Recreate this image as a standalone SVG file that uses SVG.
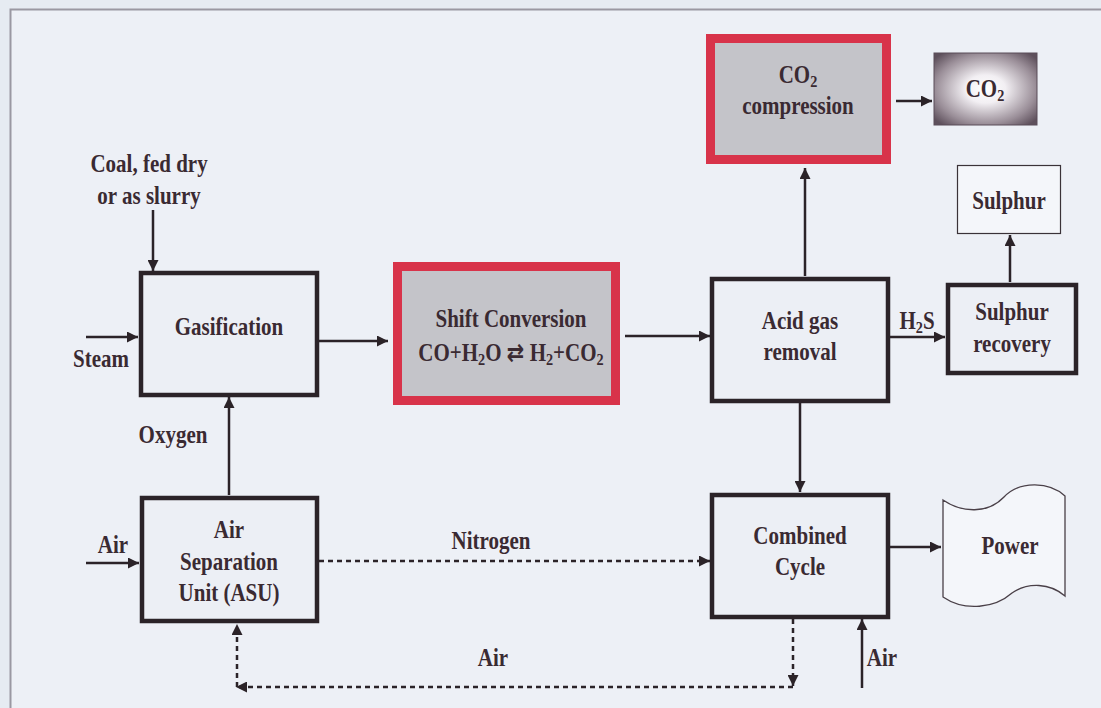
<svg xmlns="http://www.w3.org/2000/svg" width="1101" height="708" viewBox="0 0 1101 708">
<defs>
<style>
.t{font-family:"Liberation Serif","Times New Roman",serif;font-weight:bold;font-size:25px;fill:#3a2a32;text-anchor:middle;transform-box:fill-box;transform-origin:center;transform:scaleX(0.84)}
.box{fill:#eceff5;stroke:#2b2328;stroke-width:4.5}
.red{fill:#c4c4c9;stroke:#d8334a;stroke-width:9}
.ln{stroke:#2b2328;stroke-width:2.5;fill:none}
.dash{stroke:#2b2328;stroke-width:2.5;fill:none;stroke-dasharray:5 4}
</style>
<marker id="ah" viewBox="0 0 10 10" refX="10" refY="5" markerWidth="4.4" markerHeight="4.4" markerUnits="strokeWidth" orient="auto">
<path d="M0,0 L10,5 L0,10 Z" fill="#2b2328"/>
</marker>
<radialGradient id="g" cx="0.5" cy="0.5" r="0.65">
<stop offset="0" stop-color="#ffffff"/>
<stop offset="0.3" stop-color="#f2eff3"/>
<stop offset="0.75" stop-color="#9a8e98"/>
<stop offset="1" stop-color="#5e505c"/>
</radialGradient>
</defs>
<rect x="0" y="0" width="1101" height="708" fill="#e6ebf2"/>
<rect x="10.5" y="9.5" width="1100" height="710" fill="#edf0f6" stroke="#9a98a2" stroke-width="2"/>

<g id="connectors">
<line class="ln" x1="153" y1="210" x2="153" y2="271" marker-end="url(#ah)"/>
<line class="ln" x1="86" y1="337" x2="138" y2="337" marker-end="url(#ah)"/>
<line class="ln" x1="229" y1="495" x2="229" y2="397" marker-end="url(#ah)"/>
<line class="ln" x1="319" y1="341" x2="388" y2="341" marker-end="url(#ah)"/>
<line class="ln" x1="625" y1="336" x2="710" y2="336" marker-end="url(#ah)"/>
<line class="ln" x1="805" y1="276" x2="805" y2="168" marker-end="url(#ah)"/>
<line class="ln" x1="896" y1="101" x2="932" y2="101" marker-end="url(#ah)"/>
<line class="ln" x1="890" y1="337" x2="945" y2="337" marker-end="url(#ah)"/>
<line class="ln" x1="1010" y1="282" x2="1010" y2="235" marker-end="url(#ah)"/>
<line class="ln" x1="800" y1="403" x2="800" y2="492" marker-end="url(#ah)"/>
<line class="dash" x1="319" y1="561" x2="710" y2="561" marker-end="url(#ah)"/>
<line class="ln" x1="86" y1="563" x2="139" y2="563" marker-end="url(#ah)"/>
<line class="ln" x1="890" y1="547" x2="941" y2="547" marker-end="url(#ah)"/>
<line class="ln" x1="862" y1="688" x2="862" y2="619" marker-end="url(#ah)"/>
<line class="dash" x1="793" y1="619" x2="793" y2="686" marker-end="url(#ah)"/>
<line class="dash" x1="793" y1="687" x2="236" y2="687" marker-end="url(#ah)"/>
<line class="dash" x1="237" y1="687" x2="237" y2="624" marker-end="url(#ah)"/>
</g>

<g id="labels">
<text class="t" x="149" y="172">Coal, fed dry</text>
<text class="t" x="149" y="204">or as slurry</text>
<text class="t" x="101" y="367">Steam</text>
<text class="t" x="173" y="443">Oxygen</text>
<text class="t" x="917" y="329">H<tspan font-size="17" dy="4">2</tspan><tspan dy="-4">S</tspan></text>
<text class="t" x="113" y="553">Air</text>
<text class="t" x="491" y="549">Nitrogen</text>
<text class="t" x="493" y="666">Air</text>
<text class="t" x="882" y="666">Air</text>
</g>

<g id="gasification">
<rect class="box" x="141" y="273" width="176" height="122"/>
<text class="t" x="229" y="335">Gasification</text>
</g>

<g id="shift">
<rect class="red" x="397.5" y="266.5" width="218" height="134"/>
<text class="t" x="511" y="327">Shift Conversion</text>
<text class="t" x="511" y="361">CO+H<tspan font-size="17" dy="4">2</tspan><tspan dy="-4">O </tspan><tspan font-family="DejaVu Sans">⇄</tspan> H<tspan font-size="17" dy="4">2</tspan><tspan dy="-4">+CO</tspan><tspan font-size="17" dy="4">2</tspan></text>
</g>

<g id="acid">
<rect class="box" x="712" y="279" width="176" height="122"/>
<text class="t" x="800" y="329">Acid gas</text>
<text class="t" x="800" y="360">removal</text>
</g>

<g id="co2comp">
<rect class="red" x="710.5" y="38.5" width="176" height="121"/>
<text class="t" x="798" y="83">CO<tspan font-size="17" dy="4">2</tspan></text>
<text class="t" x="798" y="114">compression</text>
</g>

<g id="co2">
<rect x="934" y="53" width="103" height="72" fill="url(#g)" stroke="#5a4c58" stroke-width="1"/>
<text class="t" x="985" y="97">CO<tspan font-size="17" dy="4">2</tspan></text>
</g>

<g id="sulphur">
<rect x="957.5" y="165.5" width="103" height="68" fill="#f4f6fa" stroke="#3a3238" stroke-width="1.2"/>
<text class="t" x="1009" y="209">Sulphur</text>
</g>

<g id="recovery">
<rect class="box" x="948" y="285" width="128" height="88"/>
<text class="t" x="1012" y="320">Sulphur</text>
<text class="t" x="1012" y="352">recovery</text>
</g>

<g id="asu">
<rect class="box" x="142" y="498" width="175" height="123"/>
<text class="t" x="229" y="538">Air</text>
<text class="t" x="229" y="570">Separation</text>
<text class="t" x="229" y="601">Unit (ASU)</text>
</g>

<g id="combined">
<rect class="box" x="712" y="495" width="176" height="122"/>
<text class="t" x="800" y="544">Combined</text>
<text class="t" x="800" y="575">Cycle</text>
</g>

<g id="power">
<path d="M943,500 C962,513 988,514 1004,497 C1020,480 1050,482 1065,496 L1065,596 C1050,583 1028,582 1012,593 C995,608 965,612 943,597 Z" fill="#f4f6fa" stroke="#4a4048" stroke-width="1.3"/>
<text class="t" x="1010" y="554">Power</text>
</g>
</svg>
